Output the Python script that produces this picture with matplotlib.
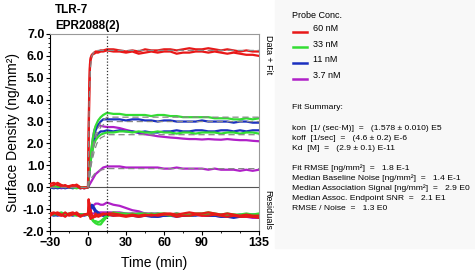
import matplotlib.pyplot as plt
import matplotlib.patches as mpatches
from matplotlib.ticker import MultipleLocator

plt.rcParams['font.family'] = ['Liberation Sans', 'DejaVu Sans']

# time axis (min), shared by every trace
t = [-30, -27, -24, -21, -18, -15, -12, -9, -6, -3, 0,
     0.5, 1, 1.5, 2, 3, 4, 5, 6, 8, 10, 12, 15,
     20, 25, 30, 35, 40, 45, 50, 55, 60, 65, 70, 75, 80, 85, 90, 95,
     100, 105, 110, 115, 120, 125, 130, 135]

# surface density traces (ng/mm2), two replicates per concentration
red1 = [0.15, 0.2, 0.1, 0.05, 0.1, 0.0, 0.05, 0.12, 0.0, -0.05, 0.0,
        2.5, 4.6, 5.6, 5.9, 6.05, 6.1, 6.15, 6.2, 6.2, 6.25, 6.25, 6.3,
        6.3, 6.25, 6.2, 6.25, 6.2, 6.3, 6.25, 6.25, 6.3, 6.3, 6.25, 6.3, 6.35, 6.3, 6.3,
        6.35, 6.3, 6.25, 6.3, 6.25, 6.2, 6.25, 6.2, 6.2]
red2 = [0.05, 0.1, 0.2, 0.1, 0.0, 0.05, 0.1, 0.05, -0.05, 0.0, 0.0,
        2.0, 4.2, 5.4, 5.8, 6.0, 6.1, 6.1, 6.15, 6.15, 6.2, 6.2, 6.25,
        6.2, 6.2, 6.15, 6.2, 6.1, 6.15, 6.2, 6.15, 6.2, 6.2, 6.1, 6.15, 6.15, 6.2, 6.2,
        6.15, 6.2, 6.15, 6.1, 6.15, 6.1, 6.05, 6.05, 6.0]
green1 = [0.05, 0.0, 0.05, 0.1, 0.0, 0.05, 0.0, 0.05, 0.0, 0.0, 0.0,
          0.4, 0.8, 1.15, 1.45, 1.9, 2.3, 2.6, 2.8, 3.05, 3.2, 3.3, 3.4,
          3.35, 3.35, 3.3, 3.3, 3.3, 3.3, 3.25, 3.3, 3.3, 3.25, 3.25, 3.2, 3.2, 3.2, 3.2,
          3.2, 3.15, 3.15, 3.15, 3.1, 3.1, 3.15, 3.1, 3.15]
green2 = [0.0, 0.05, 0.0, 0.05, 0.05, 0.0, 0.0, -0.05, 0.0, 0.0, 0.0,
          0.3, 0.6, 0.9, 1.15, 1.5, 1.8, 2.0, 2.15, 2.3, 2.4, 2.45, 2.5,
          2.5, 2.55, 2.55, 2.5, 2.55, 2.5, 2.5, 2.55, 2.5, 2.5, 2.45, 2.5, 2.5, 2.45, 2.5,
          2.5, 2.5, 2.45, 2.5, 2.5, 2.45, 2.5, 2.5, 2.45]
blue1 = [0.0, 0.0, -0.05, 0.0, 0.05, 0.0, -0.05, 0.0, 0.0, -0.05, 0.0,
         0.35, 0.7, 1.0, 1.3, 1.7, 2.1, 2.4, 2.6, 2.85, 3.0, 3.1, 3.1,
         3.1, 3.1, 3.05, 3.1, 3.1, 3.05, 3.05, 3.0, 3.05, 3.05, 3.0, 3.0, 3.0, 3.0, 3.05,
         3.0, 3.0, 3.0, 3.0, 2.95, 3.0, 3.0, 2.95, 2.95]
blue2 = [0.0, -0.05, 0.0, 0.0, -0.05, 0.0, 0.0, 0.0, -0.05, 0.0, 0.0,
         0.3, 0.6, 0.9, 1.2, 1.55, 1.9, 2.1, 2.3, 2.45, 2.55, 2.55, 2.6,
         2.55, 2.6, 2.55, 2.55, 2.5, 2.55, 2.5, 2.5, 2.55, 2.55, 2.6, 2.55, 2.55, 2.6, 2.6,
         2.55, 2.55, 2.6, 2.6, 2.55, 2.6, 2.55, 2.6, 2.6]
magenta1 = [0.0, 0.0, 0.0, -0.05, 0.0, 0.0, 0.0, 0.0, 0.0, 0.0, 0.0,
            0.3, 0.6, 0.95, 1.3, 1.8, 2.3, 2.6, 2.75, 2.85, 2.8, 2.78, 2.75,
            2.75, 2.7, 2.62, 2.55, 2.48, 2.42, 2.38, 2.33, 2.3, 2.27, 2.25, 2.22, 2.2, 2.2, 2.18,
            2.2, 2.18, 2.17, 2.2, 2.17, 2.15, 2.15, 2.12, 2.1]
magenta2 = [0.0, 0.0, 0.0, 0.0, 0.0, 0.0, 0.0, 0.0, 0.0, 0.0, 0.0,
            0.05, 0.1, 0.15, 0.2, 0.3, 0.4, 0.5, 0.6, 0.7, 0.8, 0.9, 0.95,
            0.95, 0.95, 0.9, 0.9, 0.9, 0.9, 0.9, 0.9, 0.85, 0.85, 0.9, 0.85, 0.85, 0.85, 0.85,
            0.8, 0.85, 0.8, 0.8, 0.8, 0.75, 0.8, 0.75, 0.8]

# fitted curves (dashed)
t_fit = [0, 1, 2, 3, 5, 7, 10, 15, 135]
fit_red = [0, 4.0, 5.5, 6.0, 6.2, 6.25, 6.25, 6.25, 6.25]
fit_green = [0, 0.6, 1.1, 1.5, 2.2, 2.6, 2.95, 3.2, 3.2]
fit_blue = [0, 0.55, 1.0, 1.4, 2.0, 2.4, 2.75, 3.0, 3.0]
fit_low = [0, 0.45, 0.85, 1.15, 1.65, 2.0, 2.25, 2.4, 2.4]
fit_mag = [0, 0.2, 0.35, 0.45, 0.6, 0.7, 0.78, 0.85, 0.85]

# residuals (data - fit)
res_red1 = [0.05, 0.1, 0.0, -0.05, 0.1, -0.05, 0.0, 0.1, -0.05, 0.0, 0.05,
            0.7, 0.3, -0.1, 0.2, 0.0, -0.15, -0.1, 0.05, -0.1, -0.05, 0.0, 0.05,
            0.05, 0.0, -0.05, 0.0, -0.05, 0.0, -0.05, 0.0, 0.05, 0.05, 0.0, 0.05, 0.1, 0.05, 0.05,
            0.1, 0.05, 0.0, 0.05, 0.0, -0.05, 0.0, -0.05, -0.05]
res_red2 = [-0.05, 0.05, 0.1, 0.0, -0.1, 0.05, 0.1, 0.0, -0.1, 0.0, 0.0,
            0.3, 0.55, 0.0, -0.2, -0.15, -0.1, -0.05, -0.1, 0.0, 0.0, 0.05, 0.0,
            -0.05, -0.05, -0.1, -0.05, -0.1, -0.05, 0.0, -0.05, 0.0, 0.0, -0.1, -0.05, -0.05, 0.0, -0.05,
            -0.05, 0.0, -0.05, -0.1, -0.05, -0.1, -0.1, -0.1, -0.15]
res_green1 = [0.05, 0.0, 0.05, 0.1, 0.0, 0.05, 0.0, 0.05, 0.0, 0.0, 0.0,
              0.0, -0.05, -0.1, -0.15, -0.2, -0.3, -0.35, -0.4, -0.45, -0.45, -0.3, -0.1,
              0.1, 0.05, 0.05, 0.0, 0.05, 0.05, 0.0, 0.05, 0.05, 0.0, 0.05, 0.0, 0.0, 0.05, 0.05,
              0.1, 0.05, 0.0, 0.05, 0.0, 0.0, 0.05, 0.0, 0.05]
res_green2 = [0.0, 0.05, 0.0, 0.05, 0.05, 0.0, 0.0, -0.05, 0.0, 0.0, 0.0,
              0.0, -0.05, -0.1, -0.1, -0.2, -0.25, -0.3, -0.3, -0.35, -0.3, -0.2, -0.05,
              0.05, 0.05, 0.0, 0.05, 0.0, 0.0, 0.05, 0.0, 0.0, -0.05, 0.0, 0.0, -0.05, 0.0, 0.0,
              0.05, 0.0, -0.05, 0.0, 0.0, -0.05, 0.0, 0.0, -0.05]
res_blue1 = [0.0, 0.0, -0.05, 0.0, 0.05, 0.0, -0.05, 0.0, 0.0, -0.05, 0.0,
             0.1, 0.2, 0.3, 0.4, 0.45, 0.4, 0.3, 0.2, 0.1, 0.0, -0.05, 0.0,
             0.0, 0.0, -0.05, 0.0, 0.0, -0.05, -0.05, -0.1, -0.05, -0.05, -0.1, -0.05, -0.05, -0.05, 0.0,
             -0.05, -0.05, -0.1, -0.1, -0.15, -0.1, -0.05, -0.1, -0.1]
res_blue2 = [0.0, -0.05, 0.0, 0.0, -0.05, 0.0, 0.0, 0.0, -0.05, 0.0, 0.0,
             0.05, 0.15, 0.25, 0.3, 0.35, 0.3, 0.2, 0.1, 0.05, 0.0, -0.05, 0.0,
             -0.05, 0.0, -0.05, -0.05, -0.1, -0.05, -0.1, -0.1, -0.05, -0.05, 0.0, -0.05, -0.05, 0.0, 0.0,
             -0.05, -0.05, 0.0, 0.0, -0.05, 0.0, -0.05, 0.0, 0.0]
res_mag1 = [0.0, 0.0, 0.0, -0.05, 0.0, 0.0, 0.0, 0.0, 0.0, 0.0, 0.0,
            0.05, 0.1, 0.15, 0.2, 0.3, 0.4, 0.45, 0.5, 0.5, 0.45, 0.45, 0.55,
            0.45, 0.4, 0.3, 0.2, 0.15, 0.05, 0.0, 0.0, -0.05, 0.0, -0.05, -0.05, -0.05, 0.0, -0.05,
            -0.05, -0.05, -0.1, -0.05, -0.1, -0.1, -0.1, -0.15, -0.15]
res_mag2 = [0.0, 0.0, 0.0, 0.0, 0.0, 0.0, 0.0, 0.0, 0.0, 0.0, 0.0,
            0.0, 0.0, 0.0, 0.0, 0.05, 0.05, 0.05, 0.1, 0.1, 0.1, 0.1, 0.1,
            0.1, 0.1, 0.05, 0.05, 0.05, 0.05, 0.05, 0.05, 0.0, 0.0, 0.05, 0.0, 0.0, 0.0, 0.0,
            -0.05, 0.0, -0.05, -0.05, -0.05, -0.1, -0.05, -0.1, -0.05]

conc_labels = ['60 nM', '33 nM', '11 nM', '3.7 nM']
colors = ['#e81818', '#33dd33', '#1a2fbf', '#b020c8']

fit_summary = ['Fit Summary:',
               '',
               'kon  [1/ (sec·M)]  =   (1.578 ± 0.010) E5',
               'koff  [1/sec]  =   (4.6 ± 0.2) E-6',
               'Kd  [M]  =   (2.9 ± 0.1) E-11',
               '',
               'Fit RMSE [ng/mm²]  =   1.8 E-1',
               'Median Baseline Noise [ng/mm²]  =   1.4 E-1',
               'Median Association Signal [ng/mm²]  =   2.9 E0',
               'Median Assoc. Endpoint SNR  =   2.1 E1',
               'RMSE / Noise  =   1.3 E0']

res_offset = -1.25

fig = plt.figure(figsize=(4.75, 2.72), dpi=100)
fig.patches.append(mpatches.Rectangle((275 / 475, 1 - 248 / 272), 200 / 475, 248 / 272,
                                      transform=fig.transFigure, color='#f8f8f8', zorder=0))
ax = fig.add_axes([50 / 475, 1 - 231 / 272, 209 / 475, 197 / 272])

traces = [(magenta2, res_mag2, colors[3]), (magenta1, res_mag1, colors[3]),
          (blue2, res_blue2, colors[2]), (blue1, res_blue1, colors[2]),
          (green2, res_green2, colors[1]), (green1, res_green1, colors[1]),
          (red2, res_red2, colors[0]), (red1, res_red1, colors[0])]
for y, r, c in traces:
    ax.plot(t, y, color=c, lw=1.6, zorder=3)
for y, r, c in traces:
    ax.plot(t, [res_offset + v for v in r], color=c, lw=1.6, zorder=3)

for f in [fit_red, fit_green, fit_blue, fit_low, fit_mag]:
    ax.plot(t_fit, f, color='#888888', lw=0.9, ls=(0, (5, 3)), zorder=4)
ax.plot([-30, 0], [0, 0], color='#888888', lw=0.9, ls=(0, (5, 3)), zorder=4)

ax.axhline(0, color='#555555', lw=0.8, zorder=1)
ax.axvline(15, color='#333333', lw=0.9, ls=(0, (1, 1.5)), zorder=5)

ax.set_xlim(-30, 135)
ax.set_ylim(-2.0, 7.0)
ax.set_xticks([-30, 0, 30, 60, 90, 135])
ax.xaxis.set_minor_locator(MultipleLocator(15))
ax.set_yticks([7, 6, 5, 4, 3, 2, 1, 0, -1, -2])
ax.set_yticklabels(['%.1f' % v for v in [7, 6, 5, 4, 3, 2, 1, 0, -1, -2]])
ax.yaxis.set_minor_locator(MultipleLocator(0.2))
ax.tick_params(axis='both', which='major', length=3, width=0.8, labelsize=9, pad=1)
ax.tick_params(axis='both', which='minor', length=1.5, width=0.6)
for lab in ax.get_xticklabels() + ax.get_yticklabels():
    lab.set_fontweight('bold')
ax.spines['top'].set_color('#999999')
ax.spines['right'].set_color('#999999')

ax.set_xlabel('Time (min)', fontsize=10, labelpad=5)
ax.set_ylabel('Surface Density (ng/mm²)', fontsize=10, labelpad=2)

fig.text(55 / 475, 1 - 10 / 272, 'TLR-7', fontsize=8.5, fontweight='bold', va='center')
fig.text(55 / 475, 1 - 26 / 272, 'EPR2088(2)', fontsize=8.5, fontweight='bold', va='center')
fig.text(268 / 475, 1 - 55 / 272, 'Data + Fit', fontsize=6.5, rotation=270, ha='center', va='center')
fig.text(268 / 475, 1 - 210 / 272, 'Residuals', fontsize=6.5, rotation=270, ha='center', va='center')

# legend
fig.text(292 / 475, 1 - 16 / 272, 'Probe Conc.', fontsize=6.5, va='center')
for i, (lab, c) in enumerate(zip(conc_labels, colors)):
    yy = 1 - (32 + i * 15.5) / 272
    fig.add_artist(plt.Line2D([293 / 475, 307 / 475], [yy, yy], color=c, lw=1.8,
                              transform=fig.transFigure))
    fig.text(313 / 475, yy + 0.012, lab, fontsize=6.5, va='center')

for i, line in enumerate(fit_summary):
    fig.text(292 / 475, 1 - (108 + i * 10) / 272, line, fontsize=6.1, va='center')

fig.savefig('out.png', dpi=100)
